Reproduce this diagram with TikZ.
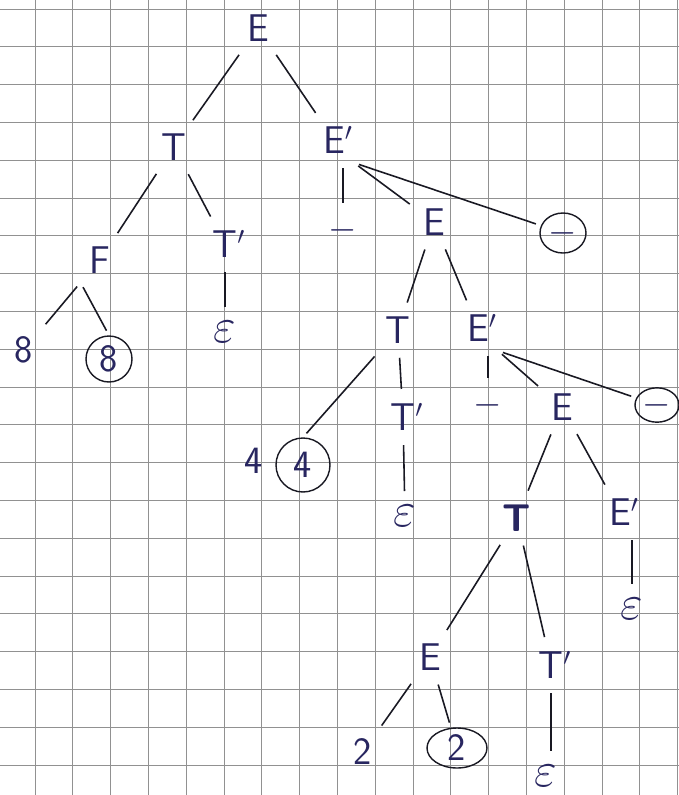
\documentclass[tikz,border=0pt]{standalone}
\usetikzlibrary{shapes.geometric}
\definecolor{inkblue}{RGB}{40,38,96}
\definecolor{inkline}{RGB}{25,25,35}
\definecolor{gridgray}{RGB}{145,145,145}
\newcommand{\eps}{\scalebox{1.35}{$\varepsilon$}}

\begin{document}
\begin{tikzpicture}[x=0.02cm,y=-0.02cm,
  sym/.style={text=inkblue,font=\sffamily\fontsize{22}{26}\selectfont,inner sep=5pt},
  tok/.style={sym,ellipse,draw=inkline,line width=0.8pt,inner sep=0pt},
  branch/.style={draw=inkline,line width=0.9pt,shorten <=3pt,shorten >=3pt}]

  % Squared paper: 37.8px cells, offset to the sheet
  \useasboundingbox (0,0) rectangle (679,795);
  \fill[white] (0,0) rectangle (679,795);
  \foreach \k in {0,...,17}{
    \draw[gridgray,line width=0.5pt] ({35+37.8*\k},0) -- ({35+37.8*\k},795);
  }
  \foreach \k in {0,...,20}{
    \draw[gridgray,line width=0.5pt] (0,{9+37.8*\k}) -- (679,{9+37.8*\k});
  }

  % Symbols of the parse tree (primes kept out of the node width)
  \node[sym] (E)    at (258,28)  {E};
  \node[sym] (T)    at (174,147) {T};
  \node[sym] (Ep)   at (334,140) {E\rlap{$'$}};
  \node[sym] (F)    at (100,260) {F};
  \node[sym] (Tp1)  at (225,244) {T\rlap{$'$}};
  \node[sym] (eightA) at (24,350) {8};
  \node[tok,minimum width=0.92cm,minimum height=0.92cm] (eightB) at (109,359) {8};
  \node[sym] (eps1) at (225,332) {\eps};
  \node[sym] (m1)   at (343,230) {$-$};
  \node[sym] (E2)   at (434,222) {E};
  \node[tok,minimum width=0.92cm,minimum height=0.8cm] (om1) at (563,233) {$-$};
  \node[sym] (T2)   at (398,330) {T};
  \node[sym] (Ep2)  at (478,328) {E\rlap{$'$}};
  \node[sym] (four) at (254,461) {4};
  \node[tok,minimum width=1.08cm,minimum height=1.08cm] (ofour) at (303,465) {4};
  \node[sym] (Tp2)  at (403,417) {T\rlap{$'$}};
  \node[sym] (eps2) at (405,516) {\eps};
  \node[sym] (m2)   at (488,405) {$-$};
  \node[sym] (E3)   at (562,407) {E};
  \node[tok,minimum width=0.88cm,minimum height=0.68cm] (om2) at (657,405) {$-$};
  \node[sym,font=\sffamily\bfseries\fontsize{22}{26}\selectfont] (T3) at (517,518) {T};
  \node[sym] (Ep3)  at (620,512) {E\rlap{$'$}};
  \node[sym] (eps3) at (632,609) {\eps};
  \node[sym] (E4)   at (430,657) {E};
  \node[sym] (Tp3)  at (551,665) {T\rlap{$'$}};
  \node[sym] (two)  at (363,752) {2};
  \node[tok,minimum width=1.2cm,minimum height=0.8cm] (otwo) at (457,748) {2};
  \node[sym] (eps4) at (546,776) {\eps};

  % Branches
  \draw[branch] (E) -- (T);
  \draw[branch] (E) -- (Ep);
  \draw[branch] (T) -- (F);
  \draw[branch] (T) -- (Tp1);
  \draw[branch] (F.south west) -- (eightA);
  \draw[branch] (F.south west) -- (eightB.north);
  \draw[branch] (Tp1) -- (eps1);
  \draw[branch] (m1 |- Ep.south) -- (m1);
  \draw[branch] (Ep.south east) -- (E2);
  \draw[branch] (Ep.south east) -- (om1);
  \draw[branch] (E2) -- (T2);
  \draw[branch] (E2) -- (Ep2);
  \draw[branch] (T2) -- (ofour.north);
  \draw[branch] (T2) -- (Tp2);
  \draw[branch] (Tp2) -- (eps2);
  \draw[branch] (m2 |- Ep2.south) -- (m2);
  \draw[branch] (Ep2.south east) -- (E3);
  \draw[branch] (Ep2.south east) -- (om2);
  \draw[branch] (E3) -- (T3);
  \draw[branch] (E3) -- (Ep3);
  \draw[branch] (eps3 |- Ep3.south) -- (eps3);
  \draw[branch] (T3) -- (E4);
  \draw[branch] (T3) -- (Tp3);
  \draw[branch] (E4) -- (two);
  \draw[branch] (E4) -- (otwo);
  \draw[branch] (Tp3) -- (Tp3 |- eps4.north);
\end{tikzpicture}
\end{document}
